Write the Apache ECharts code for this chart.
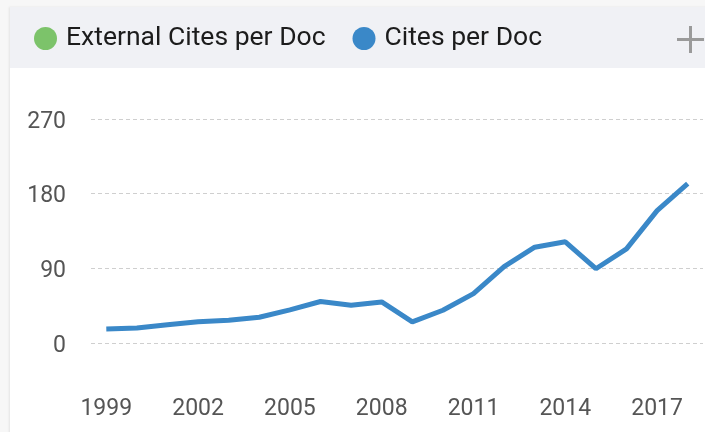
<!DOCTYPE html>
<html>
<head>
<meta charset="utf-8">
<script src="https://cdn.jsdelivr.net/npm/echarts@6/dist/echarts.min.js"></script>
<style>
  html, body { margin: 0; padding: 0; background: #f7f7f7; overflow: hidden; }
  .card { position: absolute; left: 10px; top: 7px; width: 720px; height: 440px; background: #fff; box-shadow: -1px 0 2px rgba(0,0,0,0.08); }
  .card-head { height: 61px; background: #f0f1f5; }
  #chart { position: absolute; left: 0; top: 0; width: 705px; height: 432px; }
</style>
</head>
<body>
<div class="card"><div class="card-head"></div></div>
<div id="chart"></div>
<script>
const years = ['1999', '2000', '2001', '2002', '2003', '2004', '2005', '2006', '2007', '2008',
    '2009', '2010', '2011', '2012', '2013', '2014', '2015', '2016', '2017', '2018'];
const externalCitesPerDoc = [];
const citesPerDoc = [17, 18, 22, 25.5, 27.5, 31, 40, 50, 45.5, 49.5,
    25.5, 39.5, 59.5, 92, 115.5, 122, 89.5, 113.5, 159.5, 192];
const yTicks = [0, 90, 180, 270];

const chart = echarts.init(document.getElementById('chart'), null, {renderer: 'canvas'});

chart.setOption({
    backgroundColor: 'transparent',
    animation: false,
    textStyle: {fontFamily: 'Roboto'},
    legend: {
        left: 29,
        top: 20,
        icon: 'circle',
        itemWidth: 23,
        itemHeight: 23,
        itemGap: 27,
        textStyle: {color: '#1c1c1c', fontSize: 26.5, padding: [0, 0, 0, 4]},
        data: ['External Cites per Doc', 'Cites per Doc']
    },
    graphic: [
        {type: 'rect', shape: {x: 677, y: 38, width: 27, height: 3}, style: {fill: '#9a9a9a'}},
        {type: 'rect', shape: {x: 689, y: 26, width: 3, height: 27}, style: {fill: '#9a9a9a'}}
    ],
    grid: {left: 91, right: 2, top: 119, bottom: 89},
    xAxis: {
        type: 'category',
        data: years,
        boundaryGap: true,
        axisLine: {show: false},
        axisTick: {show: false},
        axisLabel: {interval: 2, color: '#555', fontSize: 23, margin: 55}
    },
    yAxis: {
        type: 'value',
        min: yTicks[0],
        max: yTicks[yTicks.length - 1],
        interval: yTicks[1] - yTicks[0],
        axisLine: {show: false},
        axisTick: {show: false},
        axisLabel: {color: '#555', fontSize: 23, margin: 25, verticalAlign: 'top', lineHeight: 6},
        splitLine: {lineStyle: {color: '#cfcfcf', type: [4, 3], width: 1}}
    },
    series: [
        {
            name: 'External Cites per Doc',
            type: 'line',
            data: externalCitesPerDoc,
            showSymbol: false,
            itemStyle: {color: '#7cc36a'},
            lineStyle: {color: '#7cc36a', width: 5}
        },
        {
            name: 'Cites per Doc',
            type: 'line',
            data: citesPerDoc,
            showSymbol: false,
            itemStyle: {color: '#3a88c8'},
            lineStyle: {color: '#3a88c8', width: 5}
        }
    ]
});
</script>
</body>
</html>
